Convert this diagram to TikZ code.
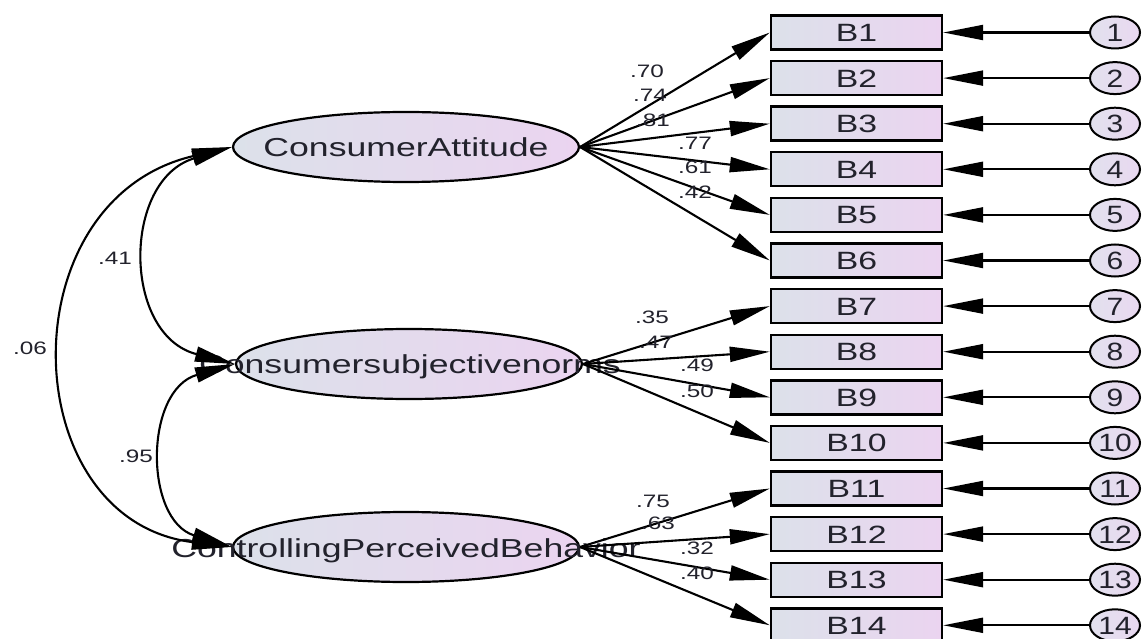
\documentclass[tikz,border=0pt]{standalone}
\usepackage{fontspec}
\setmainfont{Liberation Sans}
\usepackage{graphicx}
\usetikzlibrary{arrows.meta,shapes.geometric}
\definecolor{fillL}{HTML}{DCE1EA}
\definecolor{fillR}{HTML}{EBD4F0}
\definecolor{errL}{HTML}{E2E1EE}
\definecolor{errR}{HTML}{E9D8F0}
\definecolor{txt}{HTML}{22222C}
\newcommand\xsc[2]{\scalebox{#1}[1]{#2}}
\begin{document}
\begin{tikzpicture}[x=1pt,y=-1pt,
  >={Triangle[length=40pt,width=15pt]},
  obs/.style={rectangle, draw, line width=2.4pt, minimum width=171pt, minimum height=34pt,
    inner sep=0pt, left color=fillL, right color=fillR,
    font=\fontsize{25}{25}\selectfont, text=txt, text height=17.9pt, text depth=0pt},
  lat/.style={ellipse, draw, line width=2.2pt, minimum width=346pt, minimum height=70pt,
    inner sep=0pt, left color=fillL, right color=fillR},
  err/.style={ellipse, draw, line width=2pt, minimum width=50pt, minimum height=32pt,
    inner sep=0pt, left color=errL, right color=errR,
    font=\fontsize{25}{25}\selectfont, text=txt, text height=17.9pt, text depth=0pt},
  coef/.style={font=\fontsize{18}{18}\selectfont, text=txt, inner sep=0pt,
    text height=12.9pt, text depth=0pt},
  lattext/.style={font=\fontsize{26}{26}\selectfont, text=txt, inner sep=0pt,
    text height=18.6pt, text depth=0pt},
  conn/.style={line width=2.1pt, ->},
  cov/.style={line width=2.1pt, <->},
]
\path[use as bounding box] (0,0) rectangle (1146,639);
\clip (0,0) rectangle (1146,639);
\fill[white] (0,0) rectangle (1146,639);

% latent variables
\node[lat] (e1) at (406,147) {};
\node[lat] (e2) at (409,364) {};
\node[lat] (e3) at (406,547) {};
\node[lattext] (t1) at (406,147) {\xsc{1.37}{ConsumerAttitude}};
\node[lattext] (t2) at (410,364) {\xsc{1.37}{Consumersubjectivenorms}};
\node[lattext] (t3) at (406,548) {\xsc{1.37}{ControllingPerceivedBehavior}};

% observed variables and errors
\foreach \i in {1,...,14} {
  \pgfmathsetmacro\yy{32.5+(\i-1)*45.6}
  \node[obs] (b\i) at (856.5,\yy) {\xsc{1.35}{B\i}};
  \node[err] (c\i) at (1115,\yy) {\xsc{1.2}{\i}};
  \draw[conn] (c\i) -- (b\i);
}

% loadings
\foreach \i in {1,...,6} \draw[conn] (e1.east) -- (b\i.west);
\foreach \i in {7,...,10} \draw[conn] (e2.east) -- (b\i.west);
\foreach \i in {11,...,14} \draw[conn] (e3.east) -- (b\i.west);

% covariances
\draw[cov] (e1.west) .. controls (122,180) and (122,335) .. (e2.west);
\draw[cov] (e1.west) .. controls (6,200) and (14,520) .. (e3.west);
\draw[cov] (e2.west) .. controls (144,390) and (144,520) .. (e3.west);

% coefficient labels
\node[coef] (l1) at (647,71) {\xsc{1.35}{.70}};
\node[coef] (l2) at (650,95) {\xsc{1.35}{.74}};
\node[coef] (l3) at (653,120) {\xsc{1.35}{.81}};
\node[coef] (l4) at (695,143) {\xsc{1.35}{.77}};
\node[coef] (l5) at (695,167) {\xsc{1.35}{.61}};
\node[coef] (l6) at (695,192) {\xsc{1.35}{.42}};
\node[coef] (l7) at (652,317) {\xsc{1.35}{.35}};
\node[coef] (l8) at (656,342) {\xsc{1.35}{.47}};
\node[coef] (l9) at (697,365) {\xsc{1.35}{.49}};
\node[coef] (l10) at (697,391) {\xsc{1.35}{.50}};
\node[coef] (l11) at (653,501) {\xsc{1.35}{.75}};
\node[coef] (l12) at (658,523) {\xsc{1.35}{.63}};
\node[coef] (l13) at (697,548) {\xsc{1.35}{.32}};
\node[coef] (l14) at (697,573) {\xsc{1.35}{.40}};
\node[coef] (k1) at (115,258) {\xsc{1.35}{.41}};
\node[coef] (k2) at (30,348) {\xsc{1.35}{.06}};
\node[coef] (k3) at (136,456) {\xsc{1.35}{.95}};
\end{tikzpicture}
\end{document}
